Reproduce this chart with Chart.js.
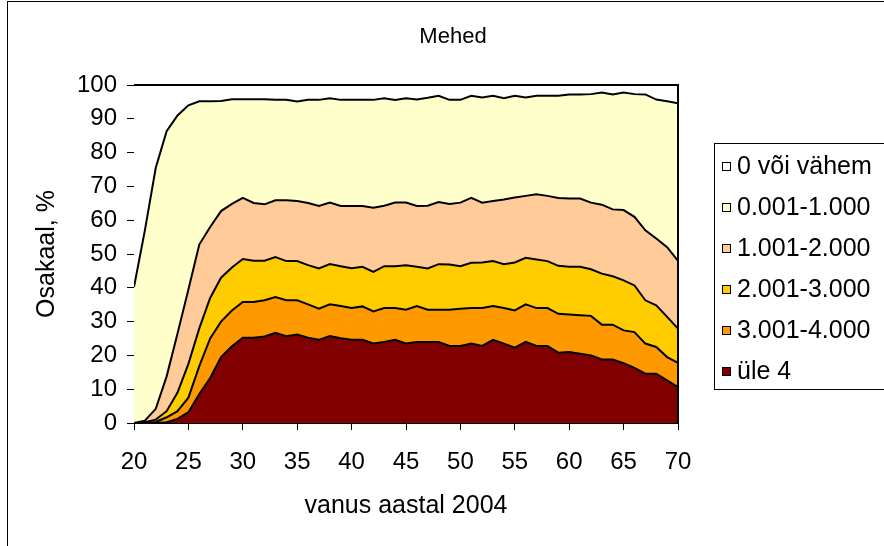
<!DOCTYPE html>
<html>
<head>
<meta charset="utf-8">
<script src="https://cdn.jsdelivr.net/npm/chart.js@4.4.1/dist/chart.umd.min.js"></script>
<style>
  html, body { margin: 0; padding: 0; overflow: hidden; background: #fff; width: 884px; height: 546px; }
  #wrap { position: absolute; left: 0; top: 0; width: 906px; height: 546px; }
  canvas { display: block; }
</style>
</head>
<body>
<div id="wrap"><canvas id="c" width="906" height="546"></canvas></div>
<script>
// Age in 2004 (x categories)
const ages = [20,21,22,23,24,25,26,27,28,29,30,31,32,33,34,35,36,37,38,39,40,41,42,43,44,45,
              46,47,48,49,50,51,52,53,54,55,56,57,58,59,60,61,62,63,64,65,66,67,68,69,70];

// Cumulative shares (%): upper boundary of each band
// share with income > 0 (top of "0.001-1.000" band)
const cumAbove0 = [40.2,57,75.5,86.3,91,94,95.2,95.2,95.3,95.8,95.8,95.8,95.8,95.6,95.6,95.1,95.6,95.6,96.1,95.6,95.6,95.6,95.6,96.1,95.6,96.1,
                   95.7,96.2,96.8,95.6,95.6,96.8,96.3,96.8,96.1,96.8,96.3,96.8,96.8,96.8,97.2,97.2,97.3,97.8,97.2,97.8,97.3,97.2,95.7,95.2,94.6];
// share > 1.000 (top of "1.001-2.000" band)
const cumAbove1 = [0,0.7,4.2,13.8,26.5,39.5,52.8,58,62.7,64.8,66.6,65.1,64.7,65.9,65.9,65.7,65.1,64.2,65.2,64.2,64.2,64.2,63.7,64.3,65.2,65.2,
                   64.2,64.3,65.4,64.8,65.2,66.6,65.2,65.7,66.1,66.7,67.2,67.7,67.2,66.6,66.4,66.4,65.2,64.6,63.2,63,61,57,54.6,52,48];
// share > 2.000 (top of "2.001-3.000" band)
const cumAbove2 = [0,0.2,1,3.5,9,17.5,28,37,43,46,48.5,48,48,49.1,47.9,47.9,46.7,45.7,47,46.4,45.8,46.2,44.7,46.4,46.4,46.7,
                   46.2,45.7,47,46.9,46.4,47.4,47.5,47.9,47,47.5,48.9,48.4,47.9,46.5,46.2,46.2,45.5,44.2,43.4,42.2,40.7,36.3,34.8,31.4,27.9];
// share > 3.000 (top of "3.001-4.000" band)
const cumAbove3 = [0,0,0.3,1.7,3.5,7.5,16.8,25,30,33.3,35.8,35.8,36.3,37.3,36.3,36.3,35.1,33.8,35.1,34.6,34,34.5,33,34,34,33.5,
                   34.6,33.5,33.5,33.5,33.8,34,34,34.6,34,33.3,35.1,34,34,32.3,32.1,31.9,31.7,29.1,29.1,27.4,26.9,23.5,22.5,19.5,17.8];
// share > 4 ("üle 4" band)
const cumAbove4 = [0,0,0,0.2,1.2,3.2,8.6,13.3,19.5,22.7,25.2,25.2,25.6,26.7,25.7,26.2,25.2,24.6,25.7,25.1,24.6,24.6,23.5,24,24.6,23.5,
                   24,24,24,22.8,22.8,23.5,22.8,24.6,23.5,22.3,24,22.8,22.8,20.8,21,20.5,20,18.8,18.8,17.7,16.3,14.6,14.6,12.6,10.6];

const seriesLabels = ['0 või vähem', '0.001-1.000', '1.001-2.000', '2.001-3.000', '3.001-4.000', 'üle 4'];
const seriesColors = ['#FFFFFF', '#FFFFCC', '#FFCC99', '#FFCC00', '#FF9900', '#800000'];
const chartTitle = 'Mehed';

const xMin = 20, xMax = 70, xStep = 5;
const yMin = 0, yMax = 100, yStep = 10;

const FONT = 'Liberation Sans, Arial, sans-serif';

const toPoints = arr => ages.map((a, i) => ({ x: a, y: arr[i] }));
const boundaries = [cumAbove0, cumAbove0, cumAbove1, cumAbove2, cumAbove3, cumAbove4];
const fills = ['end', '+1', '+1', '+1', '+1', 'origin'];

const datasets = seriesLabels.map((lab, i) => ({
  label: lab,
  data: toPoints(boundaries[i]),
  backgroundColor: seriesColors[i],
  borderColor: '#000',
  borderWidth: i === 0 ? 0 : 2,
  fill: fills[i],
  pointRadius: 0,
  pointHoverRadius: 0,
  tension: 0
}));

const framePlugin = {
  id: 'frame',
  beforeDraw(chart) {
    const ctx = chart.ctx;
    ctx.save();
    ctx.fillStyle = '#fff';
    ctx.fillRect(0, 0, chart.width, chart.height);
    ctx.strokeStyle = '#000';
    ctx.lineWidth = 1;
    ctx.strokeRect(7.5, 1.5, chart.width + 40, chart.height + 40);
    // chart title, centred on the full chart object
    ctx.fillStyle = '#000';
    ctx.font = '22px ' + FONT;
    ctx.textAlign = 'center';
    ctx.textBaseline = 'middle';
    ctx.fillText(chartTitle, chart.width / 2, 36.5);
    ctx.restore();
  },
  afterDatasetsDraw(chart) {
    const { ctx, chartArea: a } = chart;
    ctx.save();
    ctx.strokeStyle = '#000';
    ctx.lineWidth = 2;
    ctx.beginPath();
    ctx.moveTo(a.left, a.top);
    ctx.lineTo(a.right, a.top);
    ctx.lineTo(a.right, a.bottom);
    ctx.stroke();
    ctx.restore();
  },
  afterDraw(chart) {
    const { ctx, chartArea: a } = chart;
    const lx = a.right + 36, ly = 143, lh = 246;
    ctx.save();
    ctx.strokeStyle = '#000';
    ctx.lineWidth = 1;
    ctx.strokeRect(lx + 0.5, ly + 0.5, 400, lh);
    ctx.font = '25px ' + FONT;
    ctx.textBaseline = 'middle';
    ctx.textAlign = 'left';
    chart.data.datasets.forEach((ds, i) => {
      const cy = ly + 23 + i * 41;
      ctx.fillStyle = ds.backgroundColor;
      ctx.fillRect(lx + 8, Math.round(cy - 4.5), 9, 9);
      ctx.strokeRect(lx + 8.5, Math.round(cy - 4.5) + 0.5, 8, 8);
      ctx.fillStyle = '#000';
      ctx.fillText(ds.label, lx + 23, cy + 1);
    });
    ctx.restore();
  }
};

new Chart(document.getElementById('c'), {
  type: 'line',
  data: { datasets },
  options: {
    responsive: false,
    devicePixelRatio: 1,
    animation: false,
    events: [],
    layout: { padding: { left: 0, right: 228, top: 85, bottom: 0 } },
    plugins: {
      legend: { display: false },
      tooltip: { enabled: false },
      filler: { drawTime: 'beforeDatasetsDraw' },
      title: { display: false }
    },
    scales: {
      x: {
        type: 'linear',
        min: xMin, max: xMax,
        afterFit: s => { s.height = 123; },
        ticks: { stepSize: xStep, color: '#000', font: { family: FONT, size: 24 }, padding: 18, maxRotation: 0 },
        grid: { display: true, drawOnChartArea: false, drawTicks: true, tickLength: 7, tickColor: '#000', color: '#000' },
        border: { display: true, color: '#000', width: 1 },
        title: { display: true, text: 'vanus aastal 2004', color: '#000', font: { family: FONT, size: 25 }, padding: { top: 0, bottom: 25 } }
      },
      y: {
        min: yMin, max: yMax,
        afterFit: s => { s.width = 134; },
        ticks: { stepSize: yStep, color: '#000', font: { family: FONT, size: 24 }, padding: 10 },
        grid: { display: true, drawOnChartArea: false, drawTicks: true, tickLength: 7, tickColor: '#000', color: '#000' },
        border: { display: true, color: '#000', width: 1 },
        title: { display: true, text: 'Osakaal, %', color: '#000', font: { family: FONT, size: 25 }, padding: { top: 32, bottom: 0 } }
      }
    }
  },
  plugins: [framePlugin]
});
</script>
</body>
</html>
